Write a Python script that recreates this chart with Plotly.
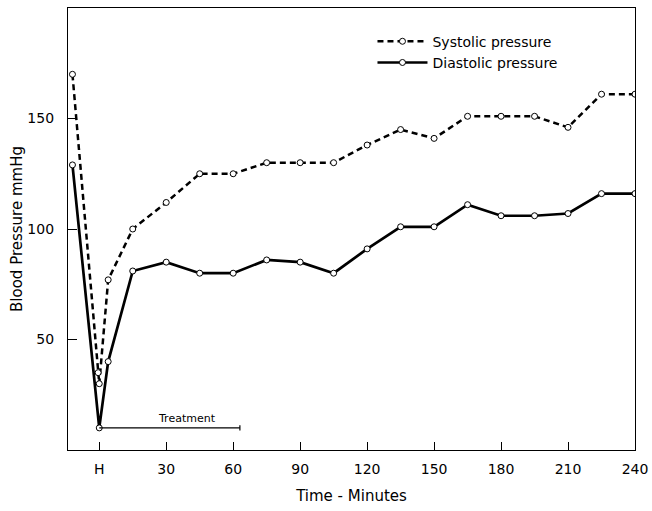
import plotly.graph_objects as go

# Data
sys_time = [-12, -0.5, 0, 4, 15, 30, 45, 60, 75, 90, 105, 120, 135, 150, 165, 180, 195, 210, 225, 240]
sys_vals = [170, 35, 30, 77, 100, 112, 125, 125, 130, 130, 130, 138, 145, 141, 151, 151, 151, 146, 161, 161]

dia_time = [-12, 0, 4, 15, 30, 45, 60, 75, 90, 105, 120, 135, 150, 165, 180, 195, 210, 225, 240]
dia_vals = [129, 10, 40, 81, 85, 80, 80, 86, 85, 80, 91, 101, 101, 111, 106, 106, 107, 116, 116]

x_tickvals = [0, 30, 60, 90, 120, 150, 180, 210, 240]
x_ticktext = ["H", "30", "60", "90", "120", "150", "180", "210", "240"]
y_tickvals = [50, 100, 150]

treat_start, treat_end, treat_level = 0, 63, 10

FONT = "DejaVu Sans"

fig = go.Figure()
fig.add_trace(go.Scatter(
    x=sys_time, y=sys_vals, mode="lines+markers", name="Systolic pressure",
    line=dict(color="black", width=2.5, dash="6px,4px"),
    marker=dict(symbol="circle", size=6, color="white", line=dict(color="black", width=1)),
))
fig.add_trace(go.Scatter(
    x=dia_time, y=dia_vals, mode="lines+markers", name="Diastolic pressure",
    line=dict(color="black", width=2.7),
    marker=dict(symbol="circle", size=6, color="white", line=dict(color="black", width=1)),
))
# treatment bar
fig.add_trace(go.Scatter(
    x=[treat_start, treat_end], y=[treat_level, treat_level], mode="lines",
    line=dict(color="black", width=1.2), showlegend=False, hoverinfo="skip",
))
fig.add_trace(go.Scatter(
    x=[treat_end, treat_end], y=[treat_level - 1.2, treat_level + 1.2], mode="lines",
    line=dict(color="black", width=1.2), showlegend=False, hoverinfo="skip",
))
fig.add_annotation(x=(treat_start + treat_end) / 2 + 8, y=treat_level, yshift=9,
                   text="Treatment", showarrow=False,
                   font=dict(family=FONT, size=11, color="black"))

fig.update_layout(
    width=652, height=511,
    margin=dict(l=68, r=17, t=8, b=61),
    paper_bgcolor="white", plot_bgcolor="white",
    font=dict(family=FONT, color="black"),
    legend=dict(x=0.537, y=0.96, xanchor="left", yanchor="top",
                bgcolor="rgba(0,0,0,0)", font=dict(family=FONT, size=14),
                itemwidth=50, tracegroupgap=0),
    showlegend=True,
)
fig.update_xaxes(
    range=[-14, 240], tickvals=x_tickvals, ticktext=x_ticktext,
    ticks="inside", ticklen=8, tickwidth=1, tickcolor="black",
    showline=True, linecolor="black", linewidth=1.2, mirror=True,
    showgrid=False, zeroline=False, ticklabelstandoff=6, automargin=False,
    tickfont=dict(family=FONT, size=14),
    title=dict(text="Time - Minutes", font=dict(family=FONT, size=15), standoff=14),
)
fig.update_yaxes(
    range=[0, 200], tickvals=y_tickvals,
    ticks="inside", ticklen=9, tickwidth=1, tickcolor="black",
    showline=True, linecolor="black", linewidth=1.2, mirror=True,
    showgrid=False, zeroline=False, ticklabelstandoff=10, automargin=False,
    tickfont=dict(family=FONT, size=14),
    title=dict(text="Blood Pressure mmHg", font=dict(family=FONT, size=15), standoff=1),
)

fig.write_html("out.html")
